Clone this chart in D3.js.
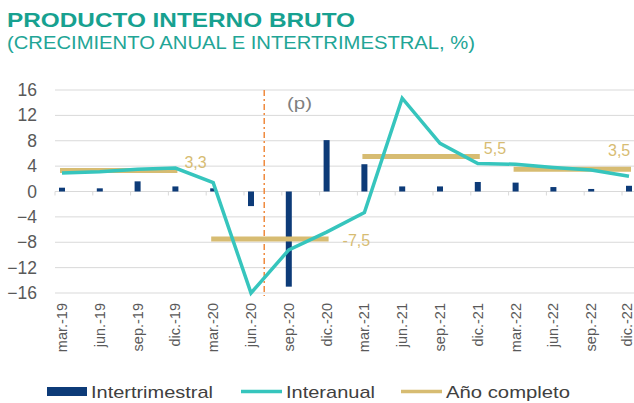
<!DOCTYPE html>
<html>
<head>
<meta charset="utf-8">
<script src="https://cdn.jsdelivr.net/npm/d3@7"></script>
<style>
  html, body { margin: 0; padding: 0; background: #ffffff; }
  svg { display: block; font-family: "Liberation Sans", Arial, sans-serif; }
</style>
</head>
<body>
<svg id="chart" width="634" height="403"></svg>
<script>
// ---- data ----
const categories = ["mar.-19","jun.-19","sep.-19","dic.-19","mar.-20","jun.-20","sep.-20","dic.-20",
                    "mar.-21","jun.-21","sep.-21","dic.-21","mar.-22","jun.-22","sep.-22","dic.-22"];
const intertrimestral = [0.6, 0.5, 1.6, 0.8, 0.5, -2.3, -15.0, 8.1, 4.3, 0.8, 0.8, 1.5, 1.4, 0.7, 0.4, 0.9];
const interanual      = [2.9, 3.1, 3.5, 3.7, 1.4, -16.0, -9.2, -6.4, -3.3, 14.7, 7.6, 4.4, 4.3, 3.8, 3.4, 2.4];
const annualYears  = ["19", "20", "21", "22"];
const annualValues = [3.3, -7.5, 5.5, 3.5];
const annualLabels = ["3,3", "-7,5", "5,5", "3,5"];
const yTicks = [16, 12, 8, 4, 0, -4, -8, -12, -16];
const seriesNames = ["Intertrimestral", "Interanual", "Año completo"];

// ---- styles ----
const C_BAR = "#0d3b78", C_LINE = "#36c5bd", C_GOLD = "#d7bc72", C_TEXT = "#595959",
      C_GRID = "#d9d9d9", C_TITLE = "#17a190", C_ORANGE = "#ef8a3e";

const svg = d3.select("#chart");

// title
svg.append("text").attr("x", 7).attr("y", 27)
  .attr("font-size", 20.5).attr("font-weight", "bold").attr("fill", C_TITLE)
  .attr("textLength", 348).attr("lengthAdjust", "spacingAndGlyphs")
  .text("PRODUCTO INTERNO BRUTO");
svg.append("text").attr("x", 7).attr("y", 49)
  .attr("font-size", 17.5).attr("fill", "#22a596")
  .attr("textLength", 468).attr("lengthAdjust", "spacingAndGlyphs")
  .text("(CRECIMIENTO ANUAL E INTERTRIMESTRAL, %)");

// scales
const x = d3.scalePoint().domain(categories).range([62, 629]);
const step = x.step();
const y = d3.scaleLinear().domain([-16, 16]).range([293, 90]);

// grid
const gridLeft = 55, gridRight = 634;
svg.append("g").selectAll("line").data(yTicks).join("line")
  .attr("x1", gridLeft).attr("x2", gridRight)
  .attr("y1", d => y(d)).attr("y2", d => y(d))
  .attr("stroke", C_GRID).attr("stroke-width", 1);

// y axis labels
const yAxis = d3.axisLeft(y).tickValues(yTicks).tickSize(0).tickPadding(0).tickFormat(d3.format("d"));
const gy = svg.append("g").attr("transform", "translate(37,0)").call(yAxis);
gy.select(".domain").remove();
gy.selectAll("text").attr("font-size", 17.5).attr("fill", C_TEXT)
  .attr("font-family", "Liberation Sans, Arial, sans-serif");

// zero axis ticks
svg.append("g").selectAll("line").data(categories).join("line")
  .attr("x1", d => x(d) - 7).attr("x2", d => x(d) - 7)
  .attr("y1", y(0)).attr("y2", y(0) + 4)
  .attr("stroke", C_GRID).attr("stroke-width", 1);

// x labels
svg.append("g").selectAll("text").data(categories).join("text")
  .attr("transform", d => `translate(${Math.min(x(d) + 5, 632)},303) rotate(-90)`)
  .attr("text-anchor", "end").attr("font-size", 14.5).attr("fill", C_TEXT)
  .text(d => d);

// bars
const barW = 6;
svg.append("g").selectAll("rect").data(intertrimestral).join("rect")
  .attr("x", (d, i) => x(categories[i]) - barW / 2)
  .attr("width", barW)
  .attr("y", d => y(Math.max(0, d)))
  .attr("height", d => Math.abs(y(d) - y(0)))
  .attr("fill", C_BAR);

// vertical forecast line
const vx = x("jun.-20") + step * 0.35;
svg.append("line").attr("x1", vx).attr("x2", vx).attr("y1", 90).attr("y2", 296)
  .attr("stroke", C_ORANGE).attr("stroke-width", 1.5).attr("stroke-dasharray", "6,3,2,3");
svg.append("text").attr("x", 287).attr("y", 109).attr("font-size", 17).attr("fill", "#7f7f7f")
  .attr("textLength", 25).attr("lengthAdjust", "spacingAndGlyphs").text("(p)");

// annual segments
const ann = annualYears.map((yr, i) => ({
  start: x("mar.-" + yr), end: x("dic.-" + yr), v: annualValues[i], label: annualLabels[i]
}));
svg.append("g").selectAll("line").data(ann).join("line")
  .attr("x1", d => d.start - 2).attr("x2", d => d.end + 2)
  .attr("y1", d => y(d.v)).attr("y2", d => y(d.v))
  .attr("stroke", C_GOLD).attr("stroke-width", 5);

// interanual line
const line = d3.line().x((d, i) => x(categories[i])).y(d => y(d));
svg.append("path").datum(interanual).attr("d", line)
  .attr("fill", "none").attr("stroke", C_LINE).attr("stroke-width", 3.5)
  .attr("stroke-linejoin", "miter");

// annual labels
const labelOffsets = [[9, -3], [16, 7], [6, -3], [-21, -13]];
svg.append("g").selectAll("text").data(ann).join("text")
  .attr("x", (d, i) => d.end + labelOffsets[i][0])
  .attr("y", (d, i) => y(d.v) + labelOffsets[i][1])
  .attr("font-size", 16).attr("fill", C_GOLD)
  .text(d => d.label);

// legend
const lg = svg.append("g").attr("font-size", 17).attr("fill", "#404040");
lg.append("rect").attr("x", 47).attr("y", 387).attr("width", 40).attr("height", 9).attr("fill", C_BAR);
lg.append("text").attr("x", 91).attr("y", 397.5).attr("textLength", 122).attr("lengthAdjust", "spacingAndGlyphs").text(seriesNames[0]);
lg.append("line").attr("x1", 241).attr("x2", 282).attr("y1", 391.5).attr("y2", 391.5)
  .attr("stroke", C_LINE).attr("stroke-width", 3.5);
lg.append("text").attr("x", 286).attr("y", 397.5).attr("textLength", 89).attr("lengthAdjust", "spacingAndGlyphs").text(seriesNames[1]);
lg.append("line").attr("x1", 401).attr("x2", 442).attr("y1", 391.5).attr("y2", 391.5)
  .attr("stroke", C_GOLD).attr("stroke-width", 3.5);
lg.append("text").attr("x", 446).attr("y", 397.5).attr("textLength", 124).attr("lengthAdjust", "spacingAndGlyphs").text(seriesNames[2]);
</script>
</body>
</html>
